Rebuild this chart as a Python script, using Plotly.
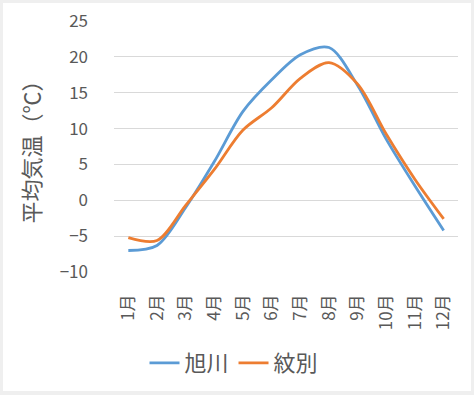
import plotly.graph_objects as go

months = ["1月", "2月", "3月", "4月", "5月", "6月", "7月", "8月", "9月", "10月", "11月", "12月"]
asahikawa = [-7.0, -6.3, -1.0, 5.4, 12.4, 16.8, 20.3, 21.3, 16.0, 8.5, 2.0, -4.2]
monbetsu = [-5.2, -5.6, -0.7, 4.3, 9.8, 12.9, 17.0, 19.2, 16.2, 9.2, 2.9, -2.6]
y_ticks = [-10, -5, 0, 5, 10, 15, 20, 25]

FONT = "Noto Sans CJK JP"
TXT = "#595959"

fig = go.Figure()
fig.add_trace(go.Scatter(x=months, y=asahikawa, name="旭川", mode="lines",
                         line=dict(color="#5b9bd5", width=2.8, shape="spline", smoothing=0.9)))
fig.add_trace(go.Scatter(x=months, y=monbetsu, name="紋別", mode="lines",
                         line=dict(color="#ed7d31", width=2.8, shape="spline", smoothing=0.9)))

L, R, T, B = 114, 16, 21, 123
W, H = 474, 395
pw, ph = W - L - R, H - T - B

def px_x(p):
    return (p - L) / pw

def px_y(p):
    return (H - B - p) / ph

fig.add_shape(type="rect", xref="paper", yref="paper", layer="below",
              x0=px_x(3), x1=px_x(471), y0=px_y(391), y1=px_y(3),
              fillcolor="white", line=dict(width=0))

fig.update_layout(
    width=W, height=H,
    margin=dict(l=L, r=R, t=T, b=B, autoexpand=False),
    paper_bgcolor="#efefef",
    plot_bgcolor="white",
    font=dict(family=FONT, color=TXT),
    showlegend=True,
    legend=dict(orientation="h", x=px_x(234), xanchor="center", y=px_y(363), yanchor="middle",
                font=dict(size=22, color=TXT), bgcolor="rgba(0,0,0,0)"),
    xaxis=dict(type="category", range=[-0.5, 11.5], tickangle=-90,
               tickfont=dict(size=17, color=TXT), automargin=False,
               showgrid=False, zeroline=False, showline=False, ticks="",
               ticklabelstandoff=18),
    yaxis=dict(range=[-10, 25], tickvals=y_ticks, tickfont=dict(size=17, color=TXT),
               gridcolor="#d9d9d9", gridwidth=1, zeroline=False, showline=False, ticks="",
               ticklabelstandoff=25, automargin=False,
               title=dict(text="平均気温（℃）", font=dict(size=22, color=TXT), standoff=12)),
)

fig.write_html("out.html", config={"displayModeBar": False},
               post_script="document.body.style.margin='0';")
